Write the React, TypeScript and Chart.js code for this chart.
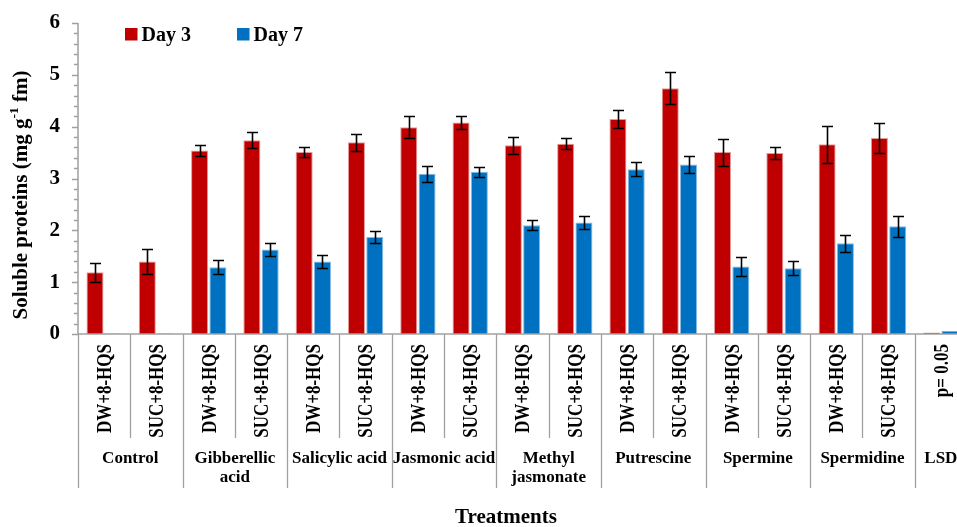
import React, { useEffect, useRef } from 'react';
import { Chart, registerables } from 'chart.js';

Chart.register(...registerables);

// Treatment sub-categories (one per bar pair) and their parent groups
const subLabels = [
  'DW+8-HQS', 'SUC+8-HQS',
  'DW+8-HQS', 'SUC+8-HQS',
  'DW+8-HQS', 'SUC+8-HQS',
  'DW+8-HQS', 'SUC+8-HQS',
  'DW+8-HQS', 'SUC+8-HQS',
  'DW+8-HQS', 'SUC+8-HQS',
  'DW+8-HQS', 'SUC+8-HQS',
  'DW+8-HQS', 'SUC+8-HQS',
  'p= 0.05',
];
const groupLabels = [
  ['Control'],
  ['Gibberellic', 'acid'],
  ['Salicylic acid'],
  ['Jasmonic acid'],
  ['Methyl', 'jasmonate'],
  ['Putrescine'],
  ['Spermine'],
  ['Spermidine'],
  ['LSD'],
];
const groupSizes = [2, 2, 2, 2, 2, 2, 2, 2, 1];

// Soluble proteins (mg g-1 fm)
const day3Values = [1.19, 1.40, 3.54, 3.74, 3.51, 3.70, 3.99, 4.08, 3.64, 3.67, 4.15, 4.74, 3.51, 3.49, 3.66, 3.78, 0.03];
const day3Errors = [0.18, 0.24, 0.11, 0.15, 0.09, 0.16, 0.21, 0.13, 0.17, 0.11, 0.17, 0.31, 0.26, 0.11, 0.36, 0.29, null];
const day7Values = [0.01, 0.01, 1.29, 1.63, 1.40, 1.87, 3.09, 3.13, 2.10, 2.15, 3.18, 3.27, 1.30, 1.27, 1.75, 2.08, 0.065];
const day7Errors = [null, null, 0.13, 0.12, 0.12, 0.11, 0.16, 0.10, 0.09, 0.12, 0.13, 0.16, 0.19, 0.14, 0.16, 0.20, null];

const yTicks = [0, 1, 2, 3, 4, 5, 6];

const SERIF = '"Liberation Serif", "Times New Roman", serif';
const AXIS_GREY = '#a0a0a0';

const errorData = [day3Errors, day7Errors];

const decorPlugin = {
  id: 'decor',
  afterDatasetsDraw(chart: any) {
    const { ctx } = chart;
    const y = chart.scales.y;
    ctx.save();
    ctx.strokeStyle = '#000';
    ctx.lineWidth = 1.6;
    chart.data.datasets.forEach((ds: any, di: number) => {
      const meta = chart.getDatasetMeta(di);
      meta.data.forEach((bar: any, i: number) => {
        const e = errorData[di][i];
        if (e == null) return;
        const v = ds.data[i];
        const top = Math.round(y.getPixelForValue(v + e)) + 0.5;
        const bot = Math.round(y.getPixelForValue(v - e)) + 0.5;
        const x = Math.round(bar.x) + 0.5;
        ctx.beginPath();
        ctx.moveTo(x, top);
        ctx.lineTo(x, bot);
        ctx.moveTo(x - 5.5, top);
        ctx.lineTo(x + 5.5, top);
        ctx.moveTo(x - 5.5, bot);
        ctx.lineTo(x + 5.5, bot);
        ctx.stroke();
      });
    });
    ctx.restore();
  },
  afterDraw(chart: any) {
    const { ctx, chartArea } = chart;
    const { left, right, top, bottom } = chartArea;
    const y = chart.scales.y;
    const n = subLabels.length;
    const cw = (right - left) / n;

    ctx.save();
    ctx.strokeStyle = AXIS_GREY;
    ctx.lineWidth = 1.5;

    // y axis line with major and minor ticks
    ctx.beginPath();
    ctx.moveTo(left, top);
    ctx.lineTo(left, bottom);
    for (let k = 0; k <= 30; k++) {
      const v = k * 0.2;
      const py = Math.round(y.getPixelForValue(v)) + 0.5;
      const len = k % 5 === 0 ? 6 : 4;
      ctx.moveTo(left - len, py);
      ctx.lineTo(left, py);
    }
    ctx.stroke();

    // x axis line
    ctx.beginPath();
    ctx.moveTo(left, bottom);
    ctx.lineTo(right, bottom);
    ctx.stroke();

    // category separators
    const groupEdges = new Set<number>();
    let acc = 0;
    groupEdges.add(0);
    groupSizes.forEach((s) => { acc += s; groupEdges.add(acc); });
    ctx.lineWidth = 1.3;
    ctx.beginPath();
    for (let k = 0; k <= n; k++) {
      const px = Math.round(left + k * cw) + 0.5;
      ctx.moveTo(px, bottom);
      ctx.lineTo(px, groupEdges.has(k) ? 488 : 438);
    }
    ctx.stroke();

    // rotated sub-category labels
    ctx.fillStyle = '#000';
    ctx.font = `bold 17px ${SERIF}`;
    subLabels.forEach((lab, i) => {
      const cx = left + (i + 0.5) * cw;
      ctx.save();
      ctx.translate(cx + 0.5, 344);
      ctx.rotate(-Math.PI / 2);
      ctx.scale(1, 1.18);
      ctx.textAlign = 'right';
      ctx.textBaseline = 'middle';
      ctx.fillText(lab, 0, 1);
      ctx.restore();
    });

    // group labels
    ctx.font = `bold 17px ${SERIF}`;
    ctx.textAlign = 'center';
    ctx.textBaseline = 'middle';
    let start = 0;
    groupLabels.forEach((lines, g) => {
      const cx = left + (start + groupSizes[g] / 2) * cw;
      lines.forEach((line, li) => {
        ctx.fillText(line, cx, 459 + li * 19);
      });
      start += groupSizes[g];
    });

    // x axis title
    ctx.font = `bold 21px ${SERIF}`;
    ctx.fillText('Treatments', 506, 518);

    // y axis title with superscript
    const parts = [
      { t: 'Soluble proteins (mg g', size: 21, dy: 0 },
      { t: '-1', size: 13.5, dy: -7 },
      { t: ' fm)', size: 21, dy: 0 },
    ];
    let total = 0;
    parts.forEach((p) => {
      ctx.font = `bold ${p.size}px ${SERIF}`;
      total += ctx.measureText(p.t).width;
    });
    ctx.save();
    ctx.translate(22, 195);
    ctx.rotate(-Math.PI / 2);
    ctx.textAlign = 'left';
    ctx.textBaseline = 'middle';
    let xo = -total / 2;
    parts.forEach((p) => {
      ctx.font = `bold ${p.size}px ${SERIF}`;
      ctx.fillText(p.t, xo, p.dy);
      xo += ctx.measureText(p.t).width;
    });
    ctx.restore();

    // legend
    const legend = [
      { x: 125, label: chart.data.datasets[0].label, color: chart.data.datasets[0].backgroundColor },
      { x: 237, label: chart.data.datasets[1].label, color: chart.data.datasets[1].backgroundColor },
    ];
    ctx.font = `bold 20px ${SERIF}`;
    ctx.textAlign = 'left';
    ctx.textBaseline = 'alphabetic';
    legend.forEach((it) => {
      ctx.fillStyle = it.color;
      ctx.fillRect(it.x, 28, 12.5, 12.5);
      ctx.fillStyle = '#000';
      ctx.fillText(it.label, it.x + 16.5, 41);
    });

    ctx.restore();
  },
};

export default function App() {
  const canvasRef = useRef<HTMLCanvasElement | null>(null);

  useEffect(() => {
    const canvas = canvasRef.current;
    if (!canvas) return;
    const chart = new Chart(canvas, {
      type: 'bar',
      data: {
        labels: subLabels,
        datasets: [
          {
            label: 'Day 3',
            data: day3Values,
            backgroundColor: '#C00000',
            borderColor: '#e49a9a',
            borderWidth: 1,
            categoryPercentage: 0.7,
            barPercentage: 0.93,
          },
          {
            label: 'Day 7',
            data: day7Values,
            backgroundColor: '#0070C0',
            borderColor: '#86b9e2',
            borderWidth: 1,
            categoryPercentage: 0.7,
            barPercentage: 0.93,
          },
        ],
      },
      options: {
        responsive: false,
        animation: false,
        devicePixelRatio: 1,
        layout: { padding: { left: 0, top: 23, right: 13, bottom: 0 } },
        plugins: {
          legend: { display: false },
          tooltip: { enabled: false },
        },
        scales: {
          x: {
            ticks: { display: false },
            grid: { display: false },
            border: { display: false },
            afterFit: (s: any) => {
              s.height = 527 - 334;
              s.paddingLeft = 0;
              s.paddingRight = 0;
            },
          },
          y: {
            min: yTicks[0],
            max: yTicks[yTicks.length - 1],
            afterBuildTicks: (s: any) => { s.ticks = yTicks.map((v) => ({ value: v })); },
            ticks: {
              color: '#000',
              padding: 18,
              font: { family: SERIF, weight: 'bold', size: 21 },
            },
            grid: { display: false, drawTicks: false },
            border: { display: false },
            afterFit: (s: any) => {
              s.width = 78;
              s.paddingTop = 0;
              s.paddingBottom = 0;
            },
          },
        },
      },
      plugins: [decorPlugin],
    } as any);
    return () => chart.destroy();
  }, []);

  return (
    <div style={{ position: 'fixed', left: 0, top: 0, width: 957, height: 527, overflow: 'hidden', background: '#fff' }}>
      <canvas ref={canvasRef} width={980} height={527} style={{ display: 'block', width: 980, height: 527 }} />
    </div>
  );
}
